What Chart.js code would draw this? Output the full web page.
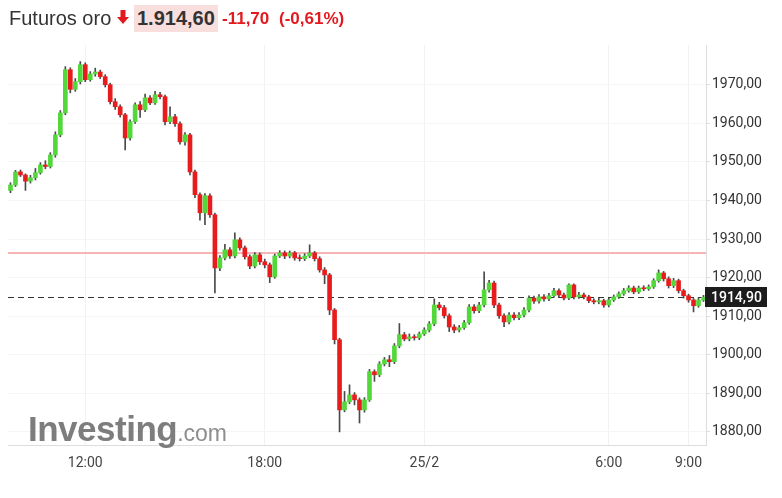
<!DOCTYPE html>
<html>
<head>
<meta charset="utf-8">
<script src="https://cdn.jsdelivr.net/npm/chart.js@4"></script>
<style>
    body { margin: 0; background: #fff; }
    #wrap { position: relative; width: 782px; height: 498px; overflow: hidden; font-family: Arial, "Liberation Sans", sans-serif; }
    #chart { position: absolute; left: 0; top: 0; }
    .hdr { position: absolute; white-space: nowrap; }
    #name { left: 9px; top: 7px; font-size: 20px; color: #333; }
    #arrow { left: 117px; top: 10px; }
    #last { left: 134px; top: 5px; height: 27px; line-height: 27px; padding: 0 3px; background: #f9dede; font-size: 20px; font-weight: bold; color: #333; }
    #chg { left: 222px; top: 9px; font-size: 17px; font-weight: bold; color: #e3191f; }
    #pct { left: 279px; top: 9px; font-size: 17px; font-weight: bold; color: #e3191f; }
    #logo { position: absolute; left: 28px; top: 411px; color: #7d7d7d; white-space: nowrap; line-height: 35px; pointer-events: none; }
    #logo b { font-size: 35px; letter-spacing: -0.5px; }
    #logo span { font-size: 23px; color: #8e8e8e; }
</style>
</head>
<body>
<div id="wrap">
    <canvas id="chart" width="782" height="498"></canvas>
    <div class="hdr" id="name">Futuros oro</div>
    <svg class="hdr" id="arrow" width="12" height="14" viewBox="0 0 12 14">
        <path d="M3.5 0 H8.5 V7 H12 L6 14 L0 7 H3.5 Z" fill="#e3191f"/>
    </svg>
    <div class="hdr" id="last">1.914,60</div>
    <div class="hdr" id="chg">-11,70</div>
    <div class="hdr" id="pct">(-0,61%)</div>
    <div id="logo"><b>Investing</b><span>.com</span></div>
</div>
<script>
// 10-minute candles, price
const firstOpen = 1942.6;
const closes = [
    1944.0, 1947.4, 1946.6, 1945.0, 1945.9, 1947.2, 1949.2, 1948.8, 1951.8, 1957.0,
    1962.7, 1973.9, 1968.8, 1970.8, 1975.2, 1971.3, 1972.8, 1973.3, 1972.1, 1970.0,
    1965.6, 1964.3, 1962.2, 1956.2, 1960.4, 1964.8, 1963.5, 1966.6, 1965.3, 1967.4,
    1966.9, 1960.4, 1961.7, 1959.9, 1955.2, 1957.0, 1947.4, 1941.5, 1936.8, 1941.2,
    1936.3, 1922.5, 1925.1, 1927.2, 1925.6, 1929.8, 1927.7, 1925.4, 1923.0, 1925.9,
    1924.1, 1923.3, 1920.2, 1925.6, 1926.4, 1925.6, 1926.4, 1925.1, 1924.9, 1925.6,
    1926.4, 1924.9, 1922.0, 1920.7, 1911.6, 1903.9, 1885.7, 1887.8, 1889.6, 1888.3,
    1885.7, 1888.3, 1895.6, 1894.8, 1897.6, 1898.7, 1898.2, 1902.3, 1905.2, 1904.1,
    1904.6, 1904.4, 1905.4, 1906.4, 1908.0, 1912.9, 1912.2, 1910.1, 1907.2, 1906.4,
    1907.0, 1908.3, 1912.4, 1911.4, 1912.9, 1916.8, 1918.6, 1912.9, 1910.1, 1908.5,
    1910.3, 1909.6, 1910.3, 1911.6, 1914.7, 1913.9, 1915.0, 1914.5, 1915.3, 1916.6,
    1915.5, 1914.7, 1918.1, 1915.0, 1915.5, 1915.0, 1914.0, 1913.7, 1914.0, 1912.9,
    1914.2, 1915.0, 1915.8, 1916.6, 1917.3, 1916.3, 1917.3, 1917.1, 1917.6, 1919.2,
    1921.2, 1919.7, 1917.9, 1919.2, 1916.6, 1915.3, 1914.2, 1912.7, 1914.2, 1914.9
];
const highs = [
    1944.6, 1947.8, 1947.9, 1946.9, 1946.5, 1948.3, 1949.8, 1950.3, 1952.4, 1957.8,
    1963.3, 1974.7, 1974.4, 1971.6, 1976.0, 1975.7, 1973.4, 1974.3, 1973.8, 1972.6,
    1970.4, 1966.4, 1964.8, 1962.6, 1960.9, 1965.3, 1965.6, 1967.6, 1967.2, 1968.3,
    1968.0, 1967.3, 1964.3, 1962.3, 1960.4, 1957.6, 1957.4, 1947.9, 1942.0, 1941.8,
    1941.7, 1936.7, 1925.7, 1928.6, 1927.8, 1931.6, 1930.3, 1928.2, 1925.9, 1926.5,
    1926.4, 1924.8, 1923.8, 1926.1, 1927.0, 1926.9, 1926.9, 1926.8, 1925.9, 1926.2,
    1928.5, 1926.8, 1925.4, 1922.6, 1921.1, 1912.0, 1904.3, 1890.5, 1892.2, 1890.2,
    1888.8, 1888.9, 1896.2, 1896.1, 1898.2, 1899.3, 1899.8, 1902.9, 1908.1, 1905.8,
    1905.4, 1905.2, 1905.9, 1907.0, 1908.6, 1914.5, 1913.6, 1912.8, 1910.6, 1907.8,
    1907.6, 1908.9, 1913.0, 1913.0, 1913.6, 1921.5, 1919.3, 1919.1, 1913.4, 1910.6,
    1910.9, 1910.9, 1910.9, 1912.2, 1915.3, 1915.2, 1915.6, 1915.6, 1915.9, 1917.2,
    1917.1, 1916.0, 1918.4, 1918.4, 1916.2, 1916.0, 1915.4, 1914.5, 1914.6, 1914.4,
    1914.7, 1915.5, 1916.3, 1917.2, 1917.9, 1917.8, 1917.8, 1917.9, 1918.1, 1919.7,
    1922.0, 1921.6, 1920.2, 1919.8, 1919.6, 1917.0, 1915.7, 1914.6, 1914.8, 1915.4
];
const lows = [
    1942.0, 1943.6, 1946.2, 1942.6, 1944.5, 1945.3, 1946.8, 1948.2, 1948.4, 1951.2,
    1956.5, 1962.2, 1967.9, 1968.3, 1970.2, 1970.8, 1970.9, 1972.2, 1971.6, 1969.4,
    1965.0, 1963.6, 1961.6, 1953.1, 1955.6, 1960.0, 1961.5, 1963.0, 1964.8, 1964.9,
    1966.3, 1959.6, 1959.9, 1959.2, 1954.6, 1954.3, 1946.6, 1940.7, 1934.9, 1933.7,
    1935.6, 1916.0, 1921.8, 1924.6, 1925.0, 1925.1, 1927.1, 1924.8, 1922.3, 1922.5,
    1923.4, 1922.5, 1918.7, 1919.8, 1925.2, 1924.9, 1925.1, 1924.5, 1924.3, 1924.4,
    1925.2, 1924.3, 1921.4, 1918.4, 1910.4, 1902.8, 1880.0, 1885.2, 1887.3, 1887.0,
    1882.3, 1885.1, 1887.9, 1893.1, 1894.3, 1897.1, 1896.9, 1897.7, 1901.8, 1903.6,
    1903.6, 1903.8, 1903.9, 1905.0, 1905.9, 1907.5, 1911.6, 1909.5, 1906.0, 1905.7,
    1905.9, 1906.6, 1907.9, 1910.8, 1910.9, 1912.4, 1916.2, 1912.2, 1909.4, 1907.3,
    1908.0, 1909.0, 1909.1, 1909.8, 1911.1, 1913.3, 1913.4, 1913.9, 1914.0, 1914.9,
    1915.0, 1914.2, 1914.3, 1914.5, 1914.6, 1914.5, 1913.5, 1913.2, 1913.2, 1912.3,
    1912.4, 1913.8, 1914.6, 1915.4, 1916.2, 1915.8, 1915.9, 1916.6, 1916.7, 1917.2,
    1918.8, 1919.1, 1917.3, 1917.4, 1916.0, 1914.7, 1913.6, 1911.1, 1912.3, 1913.8
];

const tickLabels = ['12:00', '18:00', '25/2', '6:00', '9:00'];
const tickIndex = [15, 51, 83, 120, 136];
const priceTicks = [1880, 1890, 1900, 1910, 1920, 1930, 1940, 1950, 1960, 1970];
const prevClose = 1926.3;
const lastPrice = 1914.9;

const UP = '#52d83a';
const DOWN = '#e81c1c';
const WICK = '#4a4a4a';

// each candle opens where the previous one closed
const opens = closes.map((c, i) => i === 0 ? firstOpen : closes[i - 1]);
const categories = closes.map((_, i) => {
    const k = tickIndex.indexOf(i);
    return k >= 0 ? tickLabels[k] : '';
});

function fmt(v) {
    return v.toFixed(2).replace('.', ',');
}

// reference lines and the last-price tag
const priceLines = {
    id: 'priceLines',
    beforeDatasetsDraw(chart) {
        const { ctx, chartArea } = chart;
        const y = chart.scales.y;
        ctx.save();
        ctx.lineWidth = 2;
        ctx.strokeStyle = '#f7b6b6';
        const yp = Math.round(y.getPixelForValue(prevClose));
        ctx.beginPath();
        ctx.moveTo(chartArea.left, yp);
        ctx.lineTo(chartArea.right, yp);
        ctx.stroke();

        ctx.lineWidth = 1;
        ctx.strokeStyle = '#333';
        ctx.setLineDash([6, 4]);
        const yl = Math.round(y.getPixelForValue(lastPrice)) + 0.5;
        ctx.beginPath();
        ctx.moveTo(chartArea.left, yl);
        ctx.lineTo(chartArea.right, yl);
        ctx.stroke();
        ctx.restore();
    },
    afterDraw(chart) {
        const { ctx, chartArea } = chart;
        const yl = chart.scales.y.getPixelForValue(lastPrice);
        ctx.save();
        ctx.fillStyle = '#1c1c1c';
        ctx.fillRect(chartArea.right - 1, Math.round(yl) - 10, 62, 20);
        ctx.fillStyle = '#fff';
        ctx.font = '500 14px Roboto';
        ctx.textBaseline = 'middle';
        ctx.fillText(fmt(lastPrice), chartArea.right + 5, Math.round(yl) + 1);
        ctx.restore();
    }
};

new Chart(document.getElementById('chart'), {
    type: 'bar',
    data: {
        labels: categories,
        datasets: [
            {
                label: 'body',
                data: closes.map((c, i) => [opens[i], c]),
                backgroundColor: closes.map((c, i) => c >= opens[i] ? UP : DOWN),
                barThickness: 4,
                minBarLength: 1,
                grouped: false
            },
            {
                label: 'wick',
                data: closes.map((_, i) => [lows[i], highs[i]]),
                backgroundColor: WICK,
                barThickness: 1,
                grouped: false
            }
        ]
    },
    options: {
        responsive: false,
        animation: false,
        layout: { padding: { top: 45, left: 8 } },
        plugins: {
            legend: { display: false },
            tooltip: { enabled: false }
        },
        scales: {
            x: {
                type: 'category',
                offset: true,
                grid: {
                    offset: false,
                    drawTicks: false,
                    color: ctx => categories[ctx.index] ? '#f2f2f2' : 'rgba(0,0,0,0)'
                },
                border: { color: '#dddddd' },
                ticks: {
                    autoSkip: false,
                    maxRotation: 0,
                    padding: 10,
                    color: '#444',
                    font: { family: 'Roboto', size: 14 },
                    callback(val) { return this.getLabelForValue(val); }
                },
                afterFit(scale) { scale.height = 53; }
            },
            y: {
                position: 'right',
                min: 1876.6,
                max: 1980.3,
                afterBuildTicks(scale) {
                    scale.ticks = priceTicks.map(v => ({ value: v }));
                },
                grid: {
                    color: '#f5f5f5',
                    tickColor: '#dddddd',
                    tickLength: 4
                },
                border: { color: '#dddddd' },
                ticks: {
                    padding: 2,
                    color: '#333',
                    font: { family: 'Roboto', size: 14 },
                    callback: v => fmt(v)
                },
                afterFit(scale) { scale.width = 76; }
            }
        }
    },
    plugins: [priceLines]
});
</script>
</body>
</html>
